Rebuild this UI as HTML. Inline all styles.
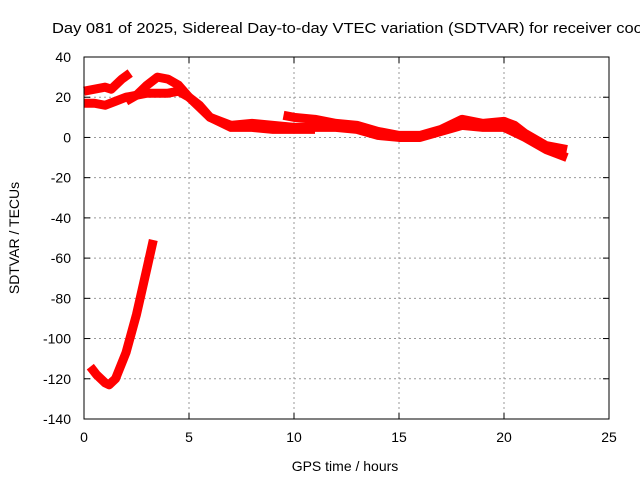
<!DOCTYPE html>
<html><head><meta charset="utf-8"><style>
body{margin:0;background:#fff;overflow:hidden}
svg{display:block;font-family:"Liberation Sans",sans-serif;font-size:14px}
</style></head><body>
<svg id="c" width="640" height="480">
<text x="52" y="33" font-size="15" textLength="600" lengthAdjust="spacingAndGlyphs">Day 081 of 2025, Sidereal Day-to-day VTEC variation (SDTVAR) for receiver coob</text>
<g id="grid"></g><g id="ticks"></g><g id="series"></g>
<rect x="84" y="57" width="525" height="362" fill="none" stroke="#000"/>
<text x="345" y="471" text-anchor="middle">GPS time / hours</text>
<text transform="translate(19,238) rotate(-90)" text-anchor="middle">SDTVAR / TECUs</text>
</svg>
<script>
const xTicks=[0,5,10,15,20,25];
const yTicks=[40,20,0,-20,-40,-60,-80,-100,-120,-140];
const seriesA=[[0,23],[0.5,24],[1,25],[1.3,24],[1.8,29],[2.2,32]];
const seriesB=[[0,17],[0.5,17],[1,16],[1.5,18],[2,20],[3,22],[4,22],[4.5,23],[5,20],[5.5,16],[6,10],[7,5],[8,5],[9,4],[10,4],[11,4]];
const seriesC=[[2,18],[2.5,21],[3,26],[3.5,30],[4,29],[4.5,26],[5,20],[5.5,15],[6,10],[7,6],[8,7],[9,6],[10,5],[11,5],[12,5],[13,4],[14,1],[15,0],[16,0],[17,3],[18,6],[19,5],[20,5],[21,0],[22,-6],[23,-10]];
const seriesD=[[9.5,11],[10,10],[11,9],[12,7],[13,6],[14,3],[15,1],[16,1],[17,4],[18,9],[19,7],[20,8],[20.5,6],[21,2],[22,-4],[22.5,-5],[23,-6]];
const seriesE=[[0.3,-114],[0.6,-118],[1,-122],[1.2,-123],[1.5,-120],[2,-107],[2.5,-88],[3,-65],[3.3,-51]];
const X=v=>84+v*21, Y=v=>57+(40-v)*362/180;
const NS="http://www.w3.org/2000/svg";
const g=document.getElementById('grid'),t=document.getElementById('ticks'),s=document.getElementById('series');
function mk(tag,at,p){const e=document.createElementNS(NS,tag);for(const k in at)e.setAttribute(k,at[k]);p.appendChild(e);return e;}
xTicks.forEach(v=>{
 if(v>0&&v<25){const l=mk('line',{x1:X(v),x2:X(v),y1:57,y2:419,stroke:'#999','stroke-dasharray':'2,3'},g);
 
 }
 const tx=mk('text',{x:X(v),y:442,'text-anchor':'middle'},t);tx.textContent=v;
 
 
 mk('line',{x1:X(v),x2:X(v),y1:419,y2:413,stroke:'#000'},t);mk('line',{x1:X(v),x2:X(v),y1:57,y2:63,stroke:'#000'},t);
});
yTicks.forEach(v=>{
 if(v<40&&v>-140){const l=mk('line',{x1:84,x2:609,y1:Y(v),y2:Y(v),stroke:'#999','stroke-dasharray':'2,3'},g);
 
 }
 const tx=mk('text',{x:71,y:Y(v)+5,'text-anchor':'end'},t);tx.textContent=v;
 
 
 mk('line',{x1:84,x2:90,y1:Y(v),y2:Y(v),stroke:'#000'},t);mk('line',{x1:603,x2:609,y1:Y(v),y2:Y(v),stroke:'#000'},t);
});
[seriesA,seriesB,seriesC,seriesD,seriesE].forEach((d,i)=>{
 const p=mk('polyline',{points:d.map(q=>X(q[0])+','+Y(q[1])).join(' '),fill:'none',stroke:'#f00','stroke-width':9,'stroke-linejoin':'round'},s);
 
 
});
</script>
</body></html>
